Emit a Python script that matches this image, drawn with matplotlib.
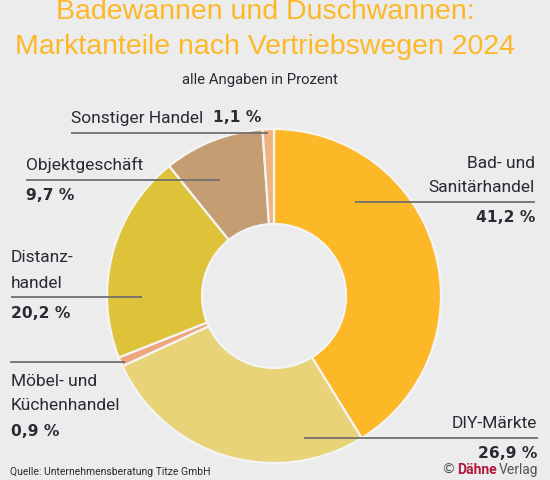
import matplotlib
matplotlib.use('Agg')
import matplotlib.pyplot as plt

# data: clockwise from top
categories = ['Bad- und Sanitärhandel', 'DIY-Märkte', 'Möbel- und Küchenhandel',
              'Distanzhandel', 'Objektgeschäft', 'Sonstiger Handel']
shares = [41.2, 26.9, 0.9, 20.2, 9.7, 1.1]
share_labels = ['41,2 %', '26,9 %', '0,9 %', '20,2 %', '9,7 %', '1,1 %']
colors = ['#FDB827', '#E8D379', '#EFA57E', '#DEC23A', '#C49E72', '#F0B27E']

title_lines = ['Badewannen und Duschwannen:', 'Marktanteile nach Vertriebswegen 2024']
subtitle = 'alle Angaben in Prozent'
source = 'Quelle: Unternehmensberatung Titze GmbH'

bg = '#ECECEC'
dark = '#2a2a35'
linec = '#707070'
narrow = 'Roboto'

fig = plt.figure(figsize=(5.5, 4.8), dpi=100, facecolor=bg)
ax = fig.add_axes([0, 0, 1, 1])
ax.set_facecolor(bg)

# donut (y axis inverted -> counterclock=True draws clockwise on screen)
ax.pie(shares, colors=colors, startangle=-90, counterclock=True,
       center=(274, 296), radius=167, frame=True,
       wedgeprops=dict(width=95, edgecolor='#F4F4F4', linewidth=1.6))
ax.set_xlim(0, 550)
ax.set_ylim(480, 0)
ax.set_aspect('equal')
ax.axis('off')

# titles
ax.text(265, 12, title_lines[0], ha='center', va='center', fontsize=20.5,
        color='#FDB827', family='Liberation Sans')
ax.text(265, 47, title_lines[1], ha='center', va='center', fontsize=20.5,
        color='#FDB827', family='Liberation Sans')
ax.text(260, 80, subtitle, ha='center', va='center', fontsize=10.7,
        color=dark, family=narrow)

lab = dict(fontsize=12.5, color=dark, family=narrow, va='center')
num = dict(fontsize=11.2, color=dark, family='DejaVu Sans', fontweight='bold', va='center')

def hline(x0, x1, y):
    ax.plot([x0, x1], [y, y], color=linec, lw=1.3, solid_capstyle='butt')

# Sonstiger Handel
ax.text(71, 118, 'Sonstiger Handel', ha='left', **lab)
ax.text(213, 118, share_labels[5], ha='left', **num)
hline(71, 268, 133)

# Objektgeschäft
ax.text(26, 165, 'Objektgeschäft', ha='left', **lab)
hline(26, 220, 180)
ax.text(26, 195, share_labels[4], ha='left', **num)

# Distanzhandel
ax.text(11, 258, 'Distanz-', ha='left', **lab)
ax.text(11, 283, 'handel', ha='left', **lab)
hline(11, 142, 297)
ax.text(11, 313, share_labels[3], ha='left', **num)

# Möbel- und Küchenhandel
hline(10, 125, 362)
ax.text(11, 381, 'Möbel- und', ha='left', **lab)
ax.text(11, 406, 'Küchenhandel', ha='left', **lab)
ax.text(11, 432, share_labels[2], ha='left', **num)

# Bad- und Sanitärhandel
ax.text(535, 164, 'Bad- und', ha='right', **lab)
ax.text(535, 187, 'Sanitärhandel', ha='right', **lab)
hline(355, 535, 202)
ax.text(535, 218, share_labels[0], ha='right', **num)

# DIY-Märkte
ax.text(537, 423, 'DIY-Märkte', ha='right', **lab)
hline(304, 538, 438)
ax.text(537, 454, share_labels[1], ha='right', **num)

# footer
ax.text(10, 472, source, ha='left', va='center', fontsize=7.5, color=dark, family=narrow)

r = fig.canvas.get_renderer()
x = 538
for s, c, w, fam, fs in [('Verlag', '#555555', 'normal', narrow, 10),
                         ('Dähne', '#B0173A', 'bold', narrow, 10),
                         ('©', '#555555', 'normal', 'DejaVu Sans', 10)]:
    t = ax.text(x, 470, s, ha='right', va='center', fontsize=fs, color=c,
                fontweight=w, family=fam)
    x -= t.get_window_extent(r).width + 2

fig.savefig('out.png', dpi=100, facecolor=bg)
